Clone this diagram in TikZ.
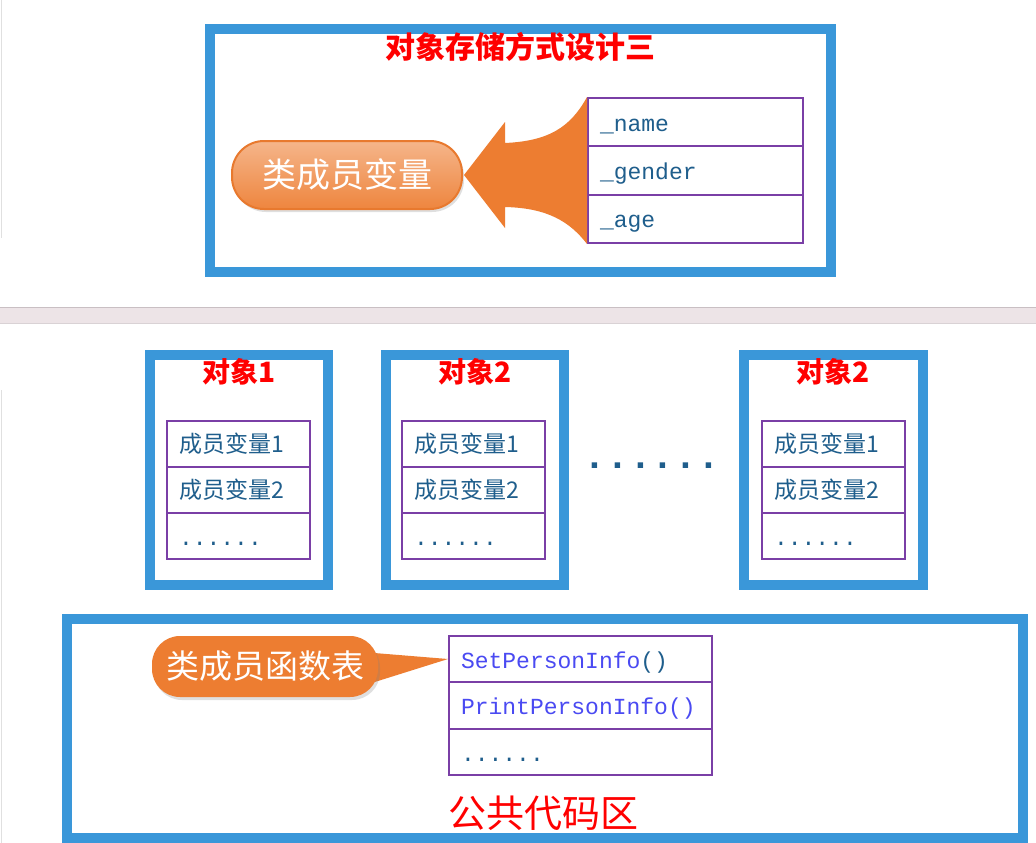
\documentclass[tikz,border=0pt]{standalone}
\usepackage{fontspec}
\newfontfamily\cjk{Noto Sans CJK SC}
\setmonofont{Liberation Mono}
\usetikzlibrary{shadows}
\definecolor{frameblue}{HTML}{3A97D9}
\definecolor{cellpurple}{HTML}{7A3FA6}
\definecolor{txtblue}{HTML}{1F5E8C}
\definecolor{fnblue}{HTML}{4A4AF2}
\definecolor{orangeA}{HTML}{ED7D31}
\definecolor{orangeL}{HTML}{F5B58A}
\definecolor{orangeE}{HTML}{E8792E}
\definecolor{bandfill}{HTML}{EDE4E7}
\definecolor{bandline}{HTML}{C9BFC3}
\begin{document}
\begin{tikzpicture}[x=1pt,y=-1pt,
  frame/.style={draw=frameblue, line width=10pt, fill=white, inner sep=0pt},
  cell/.style={draw=cellpurple, line width=2pt, inner xsep=12pt, inner ysep=0pt, align=left, text=txtblue, text height=18pt, text depth=0pt, font=\fontsize{23}{26}\selectfont\ttfamily},
  cjkcell/.style={cell, text height=17pt, text depth=0pt, font=\fontsize{23}{26}\selectfont\cjk},
  fncell/.style={cell, text=fnblue},
  ttl/.style={text=red, font=\fontsize{28}{30}\selectfont\cjk\bfseries, inner sep=0pt},
  pill/.style={rounded corners=32pt, top color=orangeL, bottom color=orangeA!85!orangeL, draw=orangeE, line width=2pt, text=white, font=\fontsize{34}{36}\selectfont\cjk, drop shadow={opacity=0.25, shadow xshift=2pt, shadow yshift=-3pt}},
  callout/.style={rounded corners=28pt, fill=orangeA, text=white, font=\fontsize{33}{35}\selectfont\cjk, drop shadow={opacity=0.25, shadow xshift=2pt, shadow yshift=-3pt}}
]
\useasboundingbox (0,0) rectangle (1036,843);
\fill[white] (0,0) rectangle (1036,843);
% faint page edges
\draw[black!12, line width=1pt] (1,0) -- (1,238);
\draw[black!12, line width=1pt] (1,390) -- (1,843);
% separator band
\fill[bandfill] (0,307) rectangle (1036,324);
\draw[bandline, line width=1pt] (0,307.5) -- (1036,307.5);
\draw[bandline!70, line width=1pt] (0,323.5) -- (1036,323.5);

% ---------- top panel ----------
\node[frame, minimum width=621, minimum height=243] (top) at (520.5,150.5) {};
\node[ttl, font=\fontsize{30}{32}\selectfont\cjk\bfseries] (toptitle) at (520,47) {对象存储方式设计三};
\node[cell, minimum width=215, minimum height=48.3, text width=191] (name) at (695.5,122.2) {\_name};
\node[cell, minimum width=215, minimum height=48.3, text width=191] (gender) at (695.5,170.5) {\_gender};
\node[cell, minimum width=215, minimum height=48.3, text width=191] (age) at (695.5,218.8) {\_age};
\coordinate (tip) at (464,175);
\fill[orangeA] (tip) -- (505,122) -- (505,143)
  .. controls (548,141) and (570,128) .. (name.north west)
  -- (age.south west)
  .. controls (570,222) and (548,208) .. (505,207)
  -- (505,228) -- cycle;
\node[pill, minimum width=230, minimum height=68] (pill) at (347,175) {类成员变量};

% ---------- objects ----------
\node[frame, minimum width=178, minimum height=230] (obj1) at (239,470) {};
\node[frame, minimum width=178, minimum height=230] (obj2) at (475,470) {};
\node[frame, minimum width=179, minimum height=230] (obj3) at (833.5,470) {};
\node[ttl] (t1) at (239,372) {对象1};
\node[ttl] (t2) at (475,372) {对象2};
\node[ttl] (t3) at (833.5,372) {对象2};
\foreach \o/\cx in {a/238.5, b/473.5, c/833.5}{
  \node[cjkcell, minimum width=143, minimum height=46, text width=119] (\o1) at (\cx,443.5) {成员变量1};
  \node[cjkcell, minimum width=143, minimum height=46, text width=119] (\o2) at (\cx,489.5) {成员变量2};
  \node[cell, minimum width=143, minimum height=46, text width=119] (\o3) at (\cx,536) {......};
}
\node[text=txtblue, inner sep=0pt, font=\fontsize{38}{40}\selectfont\ttfamily\bfseries] (middots) at (652,466) {......};

% ---------- common code area ----------
\node[frame, minimum width=956, minimum height=219] (code) at (545,728.5) {};
\node[fncell, minimum width=263, minimum height=46.3, text width=239] (setp) at (580.5,659) {SetPersonInfo\textcolor{txtblue}{()}};
\node[fncell, minimum width=263, minimum height=46.3, text width=239] (printp) at (580.5,705.5) {PrintPersonInfo()};
\node[cell, minimum width=263, minimum height=46.3, text width=239] (more) at (580.5,752) {......};
\fill[orangeA] (362,652) -- (setp.west) -- (362,686) -- cycle;
\node[callout, minimum width=226, minimum height=61] (fn) at (265,666.5) {类成员函数表};
\node[text=red, inner sep=0pt, font=\fontsize{38}{40}\selectfont\cjk] (area) at (543,813) {公共代码区};
\end{tikzpicture}
\end{document}
